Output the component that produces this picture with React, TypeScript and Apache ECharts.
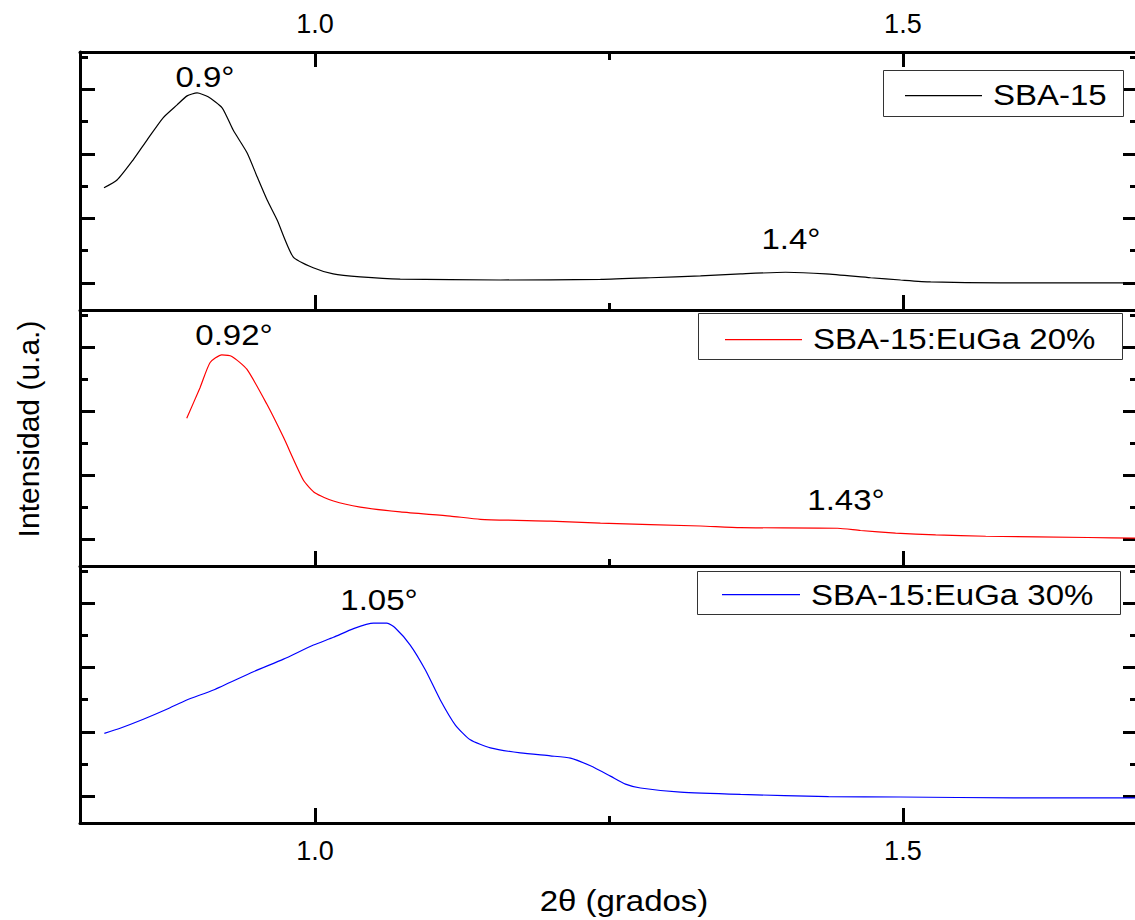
import React, { useEffect, useRef } from "react";
import * as echarts from "echarts";

// ---- data (2θ in degrees, intensity in arbitrary units) ----
const sbaX = [0.8204, 0.8315, 0.8451, 0.857, 0.8707, 0.8826, 0.8911, 0.8996, 0.909, 0.9209, 0.9303, 0.9422, 0.9507, 0.9592, 0.9677, 0.9813, 0.9984, 1.0154, 1.0384, 1.0724, 1.1576, 1.2427, 1.2853, 1.3278, 1.3619, 1.4002, 1.4343, 1.4726, 1.4981, 1.5236, 1.5832, 1.7];
const sbaY = [2.95, 3.19, 3.81, 4.43, 5.12, 5.52, 5.8, 5.89, 5.77, 5.43, 4.74, 4.03, 3.29, 2.57, 1.95, 0.81, 0.47, 0.28, 0.19, 0.12, 0.09, 0.11, 0.16, 0.22, 0.28, 0.33, 0.28, 0.16, 0.09, 0.03, 0.0, 0.0];

const eu20X = [0.8908, 0.9022, 0.9107, 0.9206, 0.9292, 0.9419, 0.9589, 0.9731, 0.9901, 1.0001, 1.0156, 1.0384, 1.0724, 1.115, 1.1405, 1.2001, 1.2427, 1.3278, 1.3619, 1.4445, 1.464, 1.4938, 1.5279, 1.5705, 1.6573, 1.7];
const eu20Y = [3.78, 4.74, 5.52, 5.76, 5.71, 5.31, 4.22, 3.18, 1.84, 1.44, 1.19, 1.0, 0.85, 0.72, 0.62, 0.56, 0.5, 0.41, 0.36, 0.34, 0.27, 0.19, 0.13, 0.09, 0.05, 0.03];

const eu30X = [0.8207, 0.8341, 0.8539, 0.8738, 0.8908, 0.9135, 0.9475, 0.9731, 0.9986, 1.0156, 1.0327, 1.0497, 1.0611, 1.0682, 1.0809, 1.0937, 1.1065, 1.1193, 1.132, 1.1491, 1.1746, 1.2001, 1.2172, 1.2342, 1.2512, 1.264, 1.2768, 1.3108, 1.3619, 1.4368, 1.4981, 1.5943, 1.7];
const eu30Y = [1.95, 2.11, 2.39, 2.7, 2.99, 3.3, 3.87, 4.26, 4.7, 4.94, 5.21, 5.38, 5.38, 5.23, 4.7, 3.93, 2.99, 2.21, 1.75, 1.5, 1.34, 1.25, 1.18, 0.94, 0.62, 0.37, 0.25, 0.12, 0.05, -0.02, -0.03, -0.06, -0.06];

const seriesNames = ["SBA-15", "SBA-15:EuGa 20%", "SBA-15:EuGa 30%"];
const seriesColors = ["#000000", "#ff0000", "#0000ff"];
const peakLabels = ["0.9°", "1.4°", "0.92°", "1.43°", "1.05°"];

const xMajorTicks = [1.0, 1.5];
const xMinorTicks = [1.25];
const yMajorTicks = [0, 2, 4, 6];
const yMinorTicks = [1, 3, 5, 7];
const xMin = 0.8;
const xMax = 1.7;
const yMin = -0.84;
const yMax = 7.16;

const xTitle = "2θ (grados)";
const yTitle = "Intensidad (u.a.)";

const FONT = "'Liberation Sans', Arial, sans-serif";

const zip = (xs: number[], ys: number[]) => xs.map((x, i) => [x, ys[i]]);

export default function App() {
  const ref = useRef<HTMLDivElement>(null);

  useEffect(() => {
    if (!ref.current) return;
    const chart = echarts.init(ref.current, null, { renderer: "svg" });

    const panels = [
      { top: 52, height: 258 },
      { top: 310, height: 256 },
      { top: 566, height: 257 },
    ];
    const gridLeft = 80;
    const gridWidth = 1058;

    const grid = panels.map((p) => ({
      left: gridLeft,
      width: gridWidth,
      top: p.top,
      height: p.height,
      containLabel: false,
      outerBoundsMode: "none",
    }));

    const mkX = (
      gridIndex: number,
      position: "top" | "bottom",
      ticks: number[],
      len: number,
      showLabels: boolean,
      showLine: boolean
    ) => ({
      type: "value",
      gridIndex,
      position,
      min: xMin,
      max: xMax,
      axisLine: { show: showLine, onZero: false, lineStyle: { color: "#000", width: 3 } },
      axisTick: {
        show: true,
        inside: true,
        length: len,
        customValues: ticks,
        lineStyle: { color: "#000", width: 3 },
      },
      axisLabel: {
        show: showLabels,
        customValues: ticks,
        fontSize: 27,
        color: "#000",
        fontFamily: FONT,
        margin: position === "top" ? 15 : 14,
        formatter: (v: number) => v.toFixed(1),
      },
      splitLine: { show: false },
      minorTick: { show: false },
    });

    const mkY = (
      gridIndex: number,
      position: "left" | "right",
      ticks: number[],
      len: number,
      showLine: boolean
    ) => ({
      type: "value",
      gridIndex,
      position,
      min: yMin,
      max: yMax,
      axisLine: { show: showLine, onZero: false, lineStyle: { color: "#000", width: 3 } },
      axisTick: {
        show: true,
        inside: true,
        length: len,
        customValues: ticks,
        lineStyle: { color: "#000", width: 3 },
      },
      axisLabel: { show: false, customValues: ticks },
      splitLine: { show: false },
    });

    const xAxis = [
      mkX(0, "bottom", xMajorTicks, 15, false, true), // 0
      mkX(0, "bottom", xMinorTicks, 7, false, false), // 1
      mkX(0, "top", xMajorTicks, 15, true, true), // 2
      mkX(0, "top", xMinorTicks, 8, false, false), // 3
      mkX(1, "bottom", xMajorTicks, 15, false, true), // 4
      mkX(1, "bottom", xMinorTicks, 7, false, false), // 5
      mkX(2, "bottom", xMajorTicks, 15, true, true), // 6
      mkX(2, "bottom", xMinorTicks, 7, false, false), // 7
    ];

    const yAxis: any[] = [];
    for (let g = 0; g < 3; g++) {
      yAxis.push(mkY(g, "left", yMajorTicks, 15, true));
      yAxis.push(mkY(g, "left", yMinorTicks, 8, false));
      yAxis.push(mkY(g, "right", yMajorTicks, 15, true));
      yAxis.push(mkY(g, "right", yMinorTicks, 8, false));
    }

    const datasets = [zip(sbaX, sbaY), zip(eu20X, eu20Y), zip(eu30X, eu30Y)];
    const xIdx = [0, 4, 6];

    const series = datasets.map((d, i) => ({
      type: "line",
      name: seriesNames[i],
      xAxisIndex: xIdx[i],
      yAxisIndex: i * 4,
      data: d,
      showSymbol: false,
      symbol: "none",
      smooth: 0.2,
      lineStyle: { color: seriesColors[i], width: 1.2 },
      itemStyle: { color: seriesColors[i] },
      z: 3,
    }));

    const annPos = [
      [205, 77],
      [791, 239],
      [234, 335],
      [846, 500],
      [379, 600],
    ];
    const annotations = peakLabels.map((t, i) => ({
      type: "text",
      x: annPos[i][0],
      y: annPos[i][1],
      scaleX: 1.1,
      z: 10,
      style: {
        text: t,
        fontSize: 30,
        fontFamily: FONT,
        fill: "#000",
        align: "center",
        verticalAlign: "middle",
      },
    }));

    const legendBoxes = [
      { x: 883, y: 70, w: 240, h: 46, lx1: 905, lx2: 982, ly: 95, tx: 993, ty: 95 },
      { x: 698, y: 313, w: 424, h: 46, lx1: 725, lx2: 802, ly: 339, tx: 813, ty: 339 },
      { x: 697, y: 571, w: 423, h: 43, lx1: 722, lx2: 800, ly: 594, tx: 811, ty: 595 },
    ];
    const legends: any[] = [];
    legendBoxes.forEach((b, i) => {
      legends.push({
        type: "rect",
        z: 20,
        shape: { x: b.x + 0.5, y: b.y + 0.5, width: b.w, height: b.h },
        style: { fill: "#fff", stroke: "#333", lineWidth: 1 },
      });
      legends.push({
        type: "rect",
        z: 21,
        shape: { x: b.lx1, y: b.ly, width: b.lx2 - b.lx1, height: 1.2 },
        style: { fill: seriesColors[i], stroke: "none", lineWidth: 0 },
      });
      legends.push({
        type: "text",
        z: 21,
        x: b.tx,
        y: b.ty,
        scaleX: 1.1,
        style: {
          text: seriesNames[i],
          fontSize: 30,
          fontFamily: FONT,
          fill: "#000",
          align: "left",
          verticalAlign: "middle",
        },
      });
    });

    const titles = [
      {
        type: "text",
        x: 28,
        y: 429,
        rotation: Math.PI / 2,
        style: {
          text: yTitle,
          fontSize: 30,
          fontFamily: FONT,
          fill: "#000",
          align: "center",
          verticalAlign: "middle",
        },
      },
      {
        type: "text",
        x: 624,
        y: 901,
        scaleX: 1.1,
        style: {
          text: xTitle,
          fontSize: 30,
          fontFamily: FONT,
          fill: "#000",
          align: "center",
          verticalAlign: "middle",
        },
      },
    ];

    chart.setOption({
      animation: false,
      backgroundColor: "#fff",
      textStyle: { fontFamily: FONT },
      grid,
      xAxis,
      yAxis,
      series,
      graphic: { elements: [...titles, ...annotations, ...legends] },
    });

    return () => chart.dispose();
  }, []);

  return (
    <div
      ref={ref}
      style={{ position: "fixed", left: 0, top: 0, width: 1135, height: 920, background: "#fff" }}
    />
  );
}
